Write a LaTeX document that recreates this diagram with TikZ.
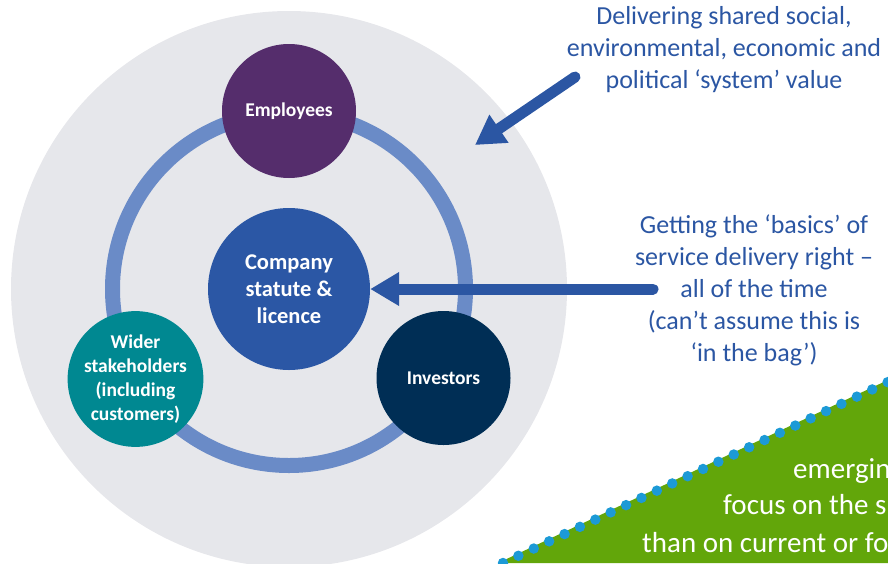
\documentclass[tikz,border=0pt]{standalone}
\usepackage{fontspec}
\setmainfont{Carlito}
\usetikzlibrary{arrows.meta}
\definecolor{greybg}{HTML}{E6E7EB}
\definecolor{ringcol}{HTML}{6A8BC7}
\definecolor{empcol}{HTML}{552D6C}
\definecolor{compcol}{HTML}{2B57A5}
\definecolor{widecol}{HTML}{008891}
\definecolor{invcol}{HTML}{002E55}
\definecolor{txtblue}{HTML}{2B56A3}
\definecolor{greencol}{HTML}{62A60A}
\definecolor{dotblue}{HTML}{1C9AD6}
\tikzset{
  actor/.style={circle, minimum size=134pt, inner sep=0pt, align=center, text=white,
    font=\bfseries\fontsize{19.5}{24}\selectfont},
  note/.style={align=center, text=txtblue, inner sep=0pt, font=\fontsize{26}{32}\selectfont},
  greentext/.style={anchor=base west, inner sep=0pt, text=white, font=\fontsize{29}{36}\selectfont},
  bigarrow/.style={draw=txtblue, line width=11pt, line cap=round,
    -{Triangle[length=29pt,width=32pt]}}
}
\begin{document}
\begin{tikzpicture}[x=1pt,y=-1pt]
\useasboundingbox (0,0) rectangle (888,563);
\clip (0,0) rectangle (888,563);
% background disc
\fill[greybg] (289,289) circle[radius=278pt];
% ring
\draw[ringcol, line width=15pt] (289,289) circle[radius=176.5pt];
% nodes
\node[actor, fill=empcol] (emp) at (289,111) {Employees};
\node[actor, fill=widecol] (wide) at (135.5,379) {Wider\\stakeholders\\(including\\customers)};
\node[actor, fill=invcol] (inv) at (443.5,378) {Investors};
\node[circle, fill=compcol, minimum size=162pt, inner sep=0pt, align=center, text=white,
  font=\bfseries\fontsize{22.5}{27}\selectfont] (comp) at (289,289) {Company\\statute \&\\licence};
% text notes
\node[note] (n1) at (724,50) {Delivering shared social,\\environmental, economic and\\political ‘system’ value};
\node[note] (n2) at (754,290) {Getting the ‘basics’ of\\service delivery right –\\all of the time\\(can’t assume this is\\‘in the bag’)};
% arrows
\coordinate (a1s) at (575,77);
\coordinate (a1e) at (475,145);
\coordinate (a2s) at (653,289);
\draw[bigarrow] (a1s) -- (a1e);
\draw[bigarrow] (a2s) -- (comp.east);
% green triangle
\fill[greencol] (498,563) -- (888,380) -- (888,563) -- cycle;
\coordinate (t1) at (503,563);
\coordinate (t2) at (888,382);
\draw[dotblue, line width=10.5pt, line cap=round, dash pattern=on 0pt off 17pt] (t1) -- (t2);
\node[greentext] (g1) at (793,478) {emergin};
\node[greentext] (g2) at (723,514) {focus on the s};
\node[greentext] (g3) at (642,552) {than on current or fo};
\end{tikzpicture}
\end{document}
